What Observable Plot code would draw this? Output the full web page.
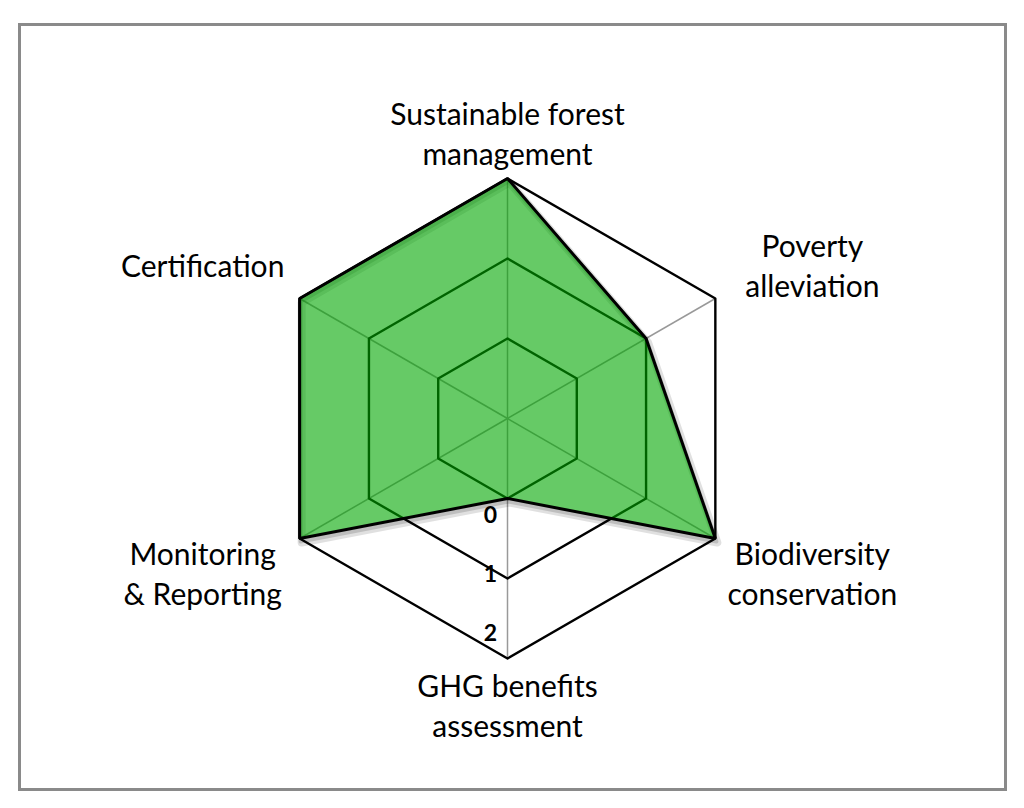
<!DOCTYPE html>
<html>
<head>
<meta charset="utf-8">
<script src="https://cdn.jsdelivr.net/npm/d3@7"></script>
<script src="https://cdn.jsdelivr.net/npm/@observablehq/plot@0.6"></script>
<style>
  html, body { margin: 0; padding: 0; background: #fff; }
  #chart { width: 1024px; height: 808px; }
</style>
</head>
<body>
<div id="chart"></div>
<script>
// ---- data ----
const categories = [
  "Sustainable forest\nmanagement",
  "Poverty\nalleviation",
  "Biodiversity\nconservation",
  "GHG benefits\nassessment",
  "Monitoring\n& Reporting",
  "Certification"
];
const values = [2, 1, 2, 0, 2, 2];
const levels = [0, 1, 2];
const tickLabels = ["0", "1", "2"];
const axisMin = -1;

// ---- helpers ----
const n = categories.length;
const ang = i => i * 2 * Math.PI / n;
const rad = v => v - axisMin;
const px = (v, i) => rad(v) * Math.sin(ang(i));
const py = (v, i) => rad(v) * Math.cos(ang(i));

const gridRows = levels.flatMap(l => categories.map((c, i) => ({level: l, i})));
const dataRows = categories.map((c, i) => ({cat: c, i, value: values[i]}));
const outer = levels[levels.length - 1];
const tickRows = levels.map((l, k) => ({level: l, label: tickLabels[k]}));

const font = "Lato, 'Liberation Sans', sans-serif";
const labelY = i => {
  const c = Math.cos(ang(i));
  return c * (Math.abs(c) > 0.99 ? 3.575 : 3.85);
};

const chart = Plot.plot({
  width: 1024,
  height: 808,
  margin: 0,
  style: {background: "#fff"},
  x: {type: "linear", domain: [-507 / 80, 517 / 80], range: [0, 1024], axis: null},
  y: {type: "linear", domain: [-390 / 80, 418 / 80], range: [808, 0], axis: null},
  marks: [
    Plot.frame({stroke: "#8a8a8a", strokeWidth: 3, insetLeft: 19, insetTop: 24, insetRight: 19, insetBottom: 19}),
    // spokes
    Plot.link(categories, {
      x1: () => 0, y1: () => 0,
      x2: (d, i) => px(outer, i), y2: (d, i) => py(outer, i),
      stroke: "#999", strokeWidth: 1.5
    }),
    // grid hexagons
    Plot.line(gridRows, {
      x: d => px(d.level, d.i), y: d => py(d.level, d.i), z: "level",
      curve: "linear-closed", stroke: "#000", strokeWidth: 2.4
    }),
    // soft shadow of the data polygon
    Plot.line(dataRows, {
      x: d => px(d.value, d.i), y: d => py(d.value, d.i),
      curve: "linear-closed", fill: "none",
      stroke: "#000", strokeOpacity: 0.12, strokeWidth: 8, dx: 2, dy: 4
    }),
    Plot.line(dataRows, {
      x: d => px(d.value, d.i), y: d => py(d.value, d.i),
      curve: "linear-closed", fill: "none",
      stroke: "#000", strokeOpacity: 0.15, strokeWidth: 4, dx: 1, dy: 3
    }),
    // data polygon
    Plot.line(dataRows, {
      x: d => px(d.value, d.i), y: d => py(d.value, d.i),
      curve: "linear-closed", fill: "rgb(0,167,0)", fillOpacity: 0.6,
      stroke: "#000", strokeWidth: 3, strokeLinejoin: "miter"
    }),
    // category labels
    Plot.text(categories, {
      x: (d, i) => 4.4 * Math.sin(ang(i)),
      y: (d, i) => labelY(i),
      text: d => d, fontSize: 30, fontFamily: font, lineHeight: 1.34,
      fill: "#000", textAnchor: "middle"
    }),
    // tick labels
    Plot.text(tickRows, {
      x: () => -0.13,
      y: d => -(1.21 + 0.74 * d.level),
      text: "label", fontSize: 23, fontWeight: "bold", fontFamily: font,
      fill: "#000", textAnchor: "end"
    })
  ]
});
document.getElementById("chart").appendChild(chart);
</script>
</body>
</html>
